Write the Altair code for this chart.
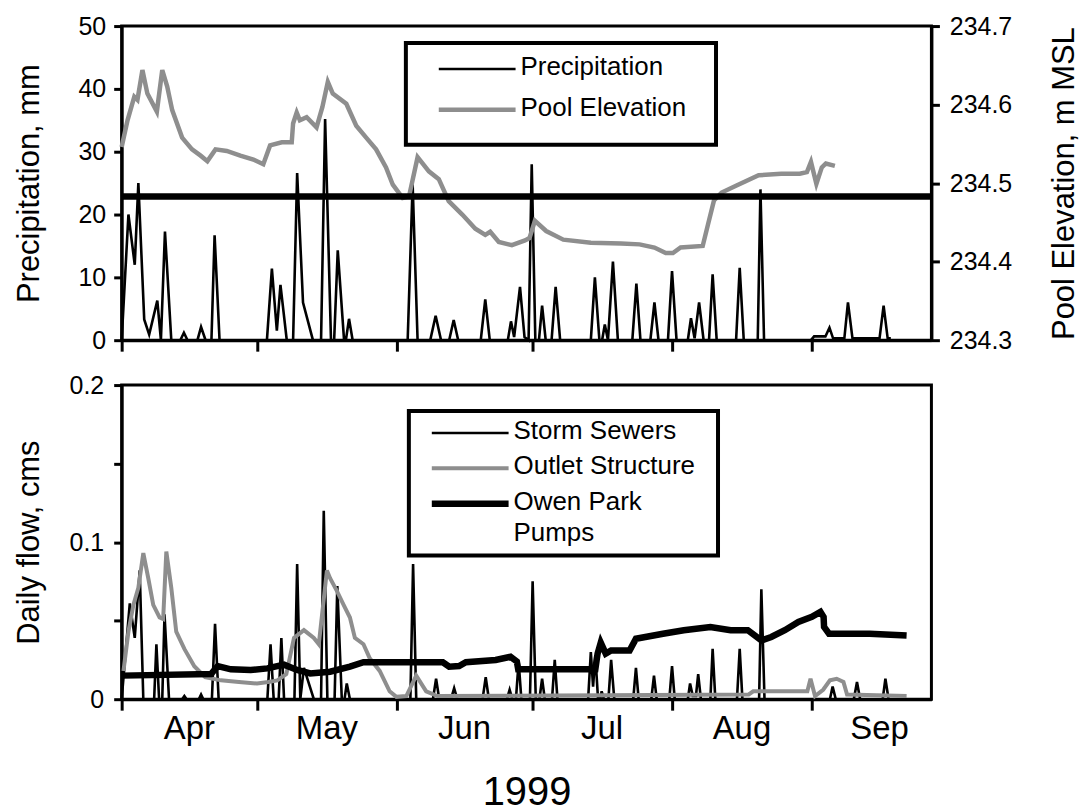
import altair as alt
import pandas as pd

FONT = "Liberation Sans"
W, H = 812, 315

# x positions are days counted from 1 April 1999
month_names = ["Apr", "May", "Jun", "Jul", "Aug", "Sep"]
month_starts = [0, 30, 61, 91, 122, 153, 183]
year_label = "1999"

precip_day = [0, 1.5, 2.9, 3.7, 5.0, 6.1, 7.9, 8.7, 9.6, 11.0, 13.0, 13.8, 14.6, 16.8, 17.6, 18.6,
              19.9, 20.6, 21.7, 32.2, 33.3, 34.4, 35.2, 36.6, 38.0, 38.9, 40.2, 42.4, 44.2, 45.1,
              46.4, 47.1, 47.9, 49.3, 49.7, 50.4, 51.2, 63.4, 64.5, 65.6, 68.4, 69.6, 70.8, 72.6,
              73.6, 74.6, 79.6, 80.6, 81.6, 85.6, 86.3, 87.0, 88.3, 89.3, 90.2, 90.9, 91.7, 92.5,
              93.2, 94.0, 95.3, 96.2, 97.2, 104.0, 104.9, 105.9, 106.5, 107.1, 107.8, 108.9, 110.0,
              113.2, 114.1, 115.0, 117.2, 118.1, 119.0, 121.1, 122.0, 123.0, 125.5, 126.2, 127.0,
              128.0, 129.0, 130.2, 131.0, 131.9, 136.2, 137.0, 137.9, 141.0, 141.6, 142.4, 152.8,
              153.5, 156.0, 156.9, 157.7, 160.2, 161.0, 162.0, 168.0, 168.9, 169.8, 170.5]
precip_mm = [0, 20, 12, 25, 3.3, 0.9, 6.3, 0, 17.3, 0, 0, 1.2, 0, 0, 2.1, 0,
             0, 16.7, 0, 0, 11.4, 1.5, 8.8, 0, 0, 26.6, 6, 0, 0, 35.2,
             0, 0, 14.3, 0, 0, 3.4, 0, 0, 24.8, 0, 0, 3.9, 0, 0,
             3.2, 0, 0, 6.5, 0, 0, 3.0, 0.5, 8.5, 0.5, 0, 28, 0, 0,
             5.5, 0, 0, 8.5, 0, 0, 10, 0, 0, 2.5, 0, 12.5, 0,
             0, 9.0, 0, 0, 6, 0, 0, 11, 0, 0, 3.5, 0.3,
             6, 0, 0, 10.5, 0, 0, 11.5, 0, 0, 24, 0, 0,
             0.6, 0.6, 2, 0.3, 0.3, 6, 0.3, 0.3, 5.5, 0.3, 0.3]

pool_day = [0, 1.3, 2.8, 3.5, 4.6, 5.7, 7.8, 9.0, 10.1, 11.2, 13.4, 15.6, 17.5, 19.0, 20.8, 23.3,
            26.3, 29.2, 31.4, 32.9, 35.5, 37.7, 38.0, 38.8, 39.5, 41.0, 43.2, 44.5, 45.7, 46.8,
            49.8, 52.0, 54.2, 56.4, 58.6, 60.1, 62.3, 63.7, 65.6, 68.1, 70.3, 72.5, 75.5, 78.4,
            80.6, 81.7, 83.6, 86.5, 89.4, 90.4, 91.6, 94.1, 97.9, 104.0, 110.7, 114.8, 118.1,
            120.6, 122.2, 123.9, 128.8, 130.0, 131.3, 133.0, 136.3, 141.2, 146.2, 150.3, 151.9,
            152.8, 154.0, 155.2, 156.1, 158.1]
pool_elev = [234.546, 234.58, 234.61, 234.606, 234.644, 234.614, 234.591, 234.644, 234.623, 234.593,
             234.558, 234.543, 234.535, 234.528, 234.543, 234.541, 234.535, 234.53, 234.524, 234.548,
             234.552, 234.552, 234.576, 234.59, 234.58, 234.584, 234.571, 234.597, 234.629, 234.614,
             234.601, 234.573, 234.558, 234.543, 234.52, 234.498, 234.481, 234.483, 234.533, 234.515,
             234.505, 234.477, 234.46, 234.442, 234.434, 234.438, 234.425, 234.421, 234.427, 234.43,
             234.452, 234.439, 234.428, 234.424, 234.423, 234.422, 234.418, 234.411, 234.411, 234.418,
             234.42, 234.448, 234.478, 234.488, 234.497, 234.51, 234.512, 234.512, 234.514, 234.527,
             234.499, 234.52, 234.525, 234.522]

level_day = [0, 179.5]
level_elev = [234.483, 234.483]

storm_day = [0, 1.8, 2.9, 4.0, 4.8, 7.2, 7.7, 8.3, 9.0, 9.5, 10.5, 13.4, 13.9, 14.4, 17.1, 17.6, 18.1,
             20.0, 20.7, 21.5, 32.3, 33.0, 33.7, 34.8, 35.4, 36.0, 38.3, 38.9, 39.6, 40.4, 42.6,
             44.2, 44.8, 45.6, 47.2, 47.8, 48.8, 49.4, 49.9, 50.6, 64.0, 64.6, 65.3, 69.0, 69.7,
             70.4, 73.0, 73.7, 74.4, 80.0, 80.7, 81.4, 85.4, 86.0, 86.6, 87.4, 88.0, 88.6, 90.5,
             91.1, 91.8, 92.6, 93.2, 93.8, 95.4, 96.0, 96.6, 103.4, 104.0, 104.5, 105.0, 105.6,
             106.1, 106.4, 106.9, 107.9, 108.5, 109.2, 113.4, 114.0, 114.6, 117.4, 118.0, 118.6,
             121.4, 122.0, 122.6, 125.5, 126.0, 126.6, 127.3, 127.8, 128.4, 130.5, 131.0, 131.6,
             136.4, 137.0, 137.6, 141.3, 141.8, 142.5, 157.0, 157.6, 158.3, 162.3, 163.0, 163.7,
             168.7, 169.3, 170.0, 174.0]
storm_cms = [0, 0.061, 0.039, 0.082, 0, 0, 0.035, 0, 0, 0.054, 0, 0, 0.002, 0, 0, 0.003, 0,
             0, 0.048, 0, 0, 0.035, 0, 0, 0.039, 0, 0, 0.086, 0, 0.02, 0,
             0, 0.12, 0, 0, 0.072, 0, 0, 0.01, 0, 0, 0.086, 0, 0, 0.013,
             0, 0, 0.007, 0, 0, 0.014, 0, 0, 0.006, 0, 0, 0.024, 0, 0,
             0.075, 0, 0, 0.013, 0, 0, 0.025, 0, 0, 0.03, 0.008, 0.028, 0,
             0, 0.005, 0, 0, 0.025, 0, 0, 0.02, 0, 0, 0.015, 0,
             0, 0.021, 0, 0, 0.01, 0.002, 0.002, 0.016, 0, 0, 0.032, 0,
             0, 0.032, 0, 0, 0.07, 0, 0, 0.008, 0, 0, 0.011, 0,
             0, 0.013, 0, 0]

outlet_day = [0.4, 1.5, 2.6, 3.7, 4.8, 5.9, 7.0, 8.4, 9.2, 9.9, 11.0, 12.1, 13.9, 16.1, 18.5, 22.0,
              26.0, 30.0, 32.5, 34.5, 36.5, 38.2, 40.4, 42.6, 43.7, 45.5, 46.2, 47.7, 49.2, 50.6,
              51.7, 53.6, 55.0, 57.2, 59.4, 60.9, 63.1, 65.3, 67.5, 70.0, 139.0, 140.0, 152.0,
              152.7, 153.7, 155.5, 157.0, 158.5, 160.0, 160.8, 174.0]
outlet_cms = [0.018, 0.043, 0.06, 0.071, 0.093, 0.077, 0.06, 0.052, 0.051, 0.094, 0.071, 0.043,
              0.032, 0.021, 0.014, 0.012, 0.011, 0.01, 0.011, 0.012, 0.016, 0.039, 0.044, 0.039,
              0.035, 0.082, 0.077, 0.069, 0.06, 0.052, 0.039, 0.035, 0.026, 0.018, 0.005, 0.0015,
              0.002, 0.015, 0.005, 0.002, 0.003, 0.005, 0.005, 0.013, 0.002, 0.006, 0.012, 0.013,
              0.011, 0.003, 0.002]

pumps_day = [0, 19.8, 21.3, 24.2, 28.6, 32.3, 36.0, 38.9, 41.8, 46.2, 50.6, 53.6, 71.2, 72.6, 74.8,
             76.3, 82.9, 86.2, 87.6, 87.9, 105.0, 105.5, 106.2, 107.3, 108.5, 112.6, 114.0, 120.0,
             124.6, 130.5, 135.0, 138.8, 141.8, 144.0, 147.0, 150.0, 153.0, 154.9, 155.6, 155.7,
             156.8, 165.8, 174.0]
pumps_cms = [0.015, 0.016, 0.021, 0.019, 0.0186, 0.0196, 0.022, 0.0186, 0.0164, 0.0175, 0.0207,
             0.0235, 0.0235, 0.0207, 0.0211, 0.0235, 0.025, 0.027, 0.024, 0.019, 0.019, 0.029, 0.036,
             0.029, 0.031, 0.031, 0.0385, 0.0417, 0.0439, 0.046, 0.0439, 0.0439, 0.0374, 0.0396,
             0.0439, 0.0492, 0.0524, 0.0556, 0.0524, 0.046, 0.0417, 0.0417, 0.0406]

top_legend_labels = ["Precipitation", "Pool Elevation"]
bottom_legend_labels = ["Storm Sewers", "Outlet Structure", "Owen Park\nPumps"]

GRAY = "#8e8e8e"
style_precip = dict(color="black", strokeWidth=2.6)
style_pool = dict(color=GRAY, strokeWidth=4.5)
style_level = dict(color="black", strokeWidth=6.5)
style_storm = dict(color="black", strokeWidth=2.6)
style_outlet = dict(color=GRAY, strokeWidth=4)
style_pumps = dict(color="black", strokeWidth=6.5)

df_prec = pd.DataFrame({"day": precip_day, "value": precip_mm})
df_pool = pd.DataFrame({"day": pool_day, "elev": pool_elev})
df_level = pd.DataFrame({"day": level_day, "elev": level_elev})
df_storm = pd.DataFrame({"day": storm_day, "flow": storm_cms})
df_outlet = pd.DataFrame({"day": outlet_day, "flow": outlet_cms})
df_pumps = pd.DataFrame({"day": pumps_day, "flow": pumps_cms})
month_mid = [(a + b) / 2 for a, b in zip(month_starts[:-1], month_starts[1:])]
df_months = pd.DataFrame({"mid": month_mid, "name": month_names})

xscale = alt.Scale(domain=[0, 179.5], nice=False, zero=False)
one = pd.DataFrame({"a": [0]})


def legend(labels, styles, box, x_line0, x_line1, y_first, step, x_text, font_size=26, line_h=31):
    layers = [
        alt.Chart(one).mark_rect(fill="white", stroke="black", strokeWidth=4).encode(
            x=alt.value(box[0]), x2=alt.value(box[2]), y=alt.value(box[1]), y2=alt.value(box[3]))
    ]
    for i, (lab, st) in enumerate(zip(labels, styles)):
        yy = y_first + i * step
        layers.append(
            alt.Chart(one).mark_rule(color=st["color"], strokeWidth=st["strokeWidth"]).encode(
                x=alt.value(x_line0), x2=alt.value(x_line1), y=alt.value(yy)))
        for k, part in enumerate(lab.split("\n")):
            layers.append(
                alt.Chart(pd.DataFrame({"t": [part]})).mark_text(
                    align="left", baseline="middle", font=FONT, fontSize=font_size, color="black"
                ).encode(text="t:N", x=alt.value(x_text), y=alt.value(yy - 2 + k * line_h)))
    return layers


# ---------------- top panel ----------------
prec = alt.Chart(df_prec).mark_line(**style_precip).encode(
    x=alt.X("day:Q", scale=xscale,
            axis=alt.Axis(values=month_starts[:-1], labels=False, title=None, tickSize=11,
                          tickWidth=3, grid=False, domainWidth=3)),
    y=alt.Y("value:Q", scale=alt.Scale(domain=[0, 50], nice=False),
            axis=alt.Axis(values=[0, 10, 20, 30, 40, 50], title="Precipitation, mm", grid=False,
                          tickSize=8, tickWidth=3, labelPadding=8, domainWidth=3,
                          titleX=-92, titleY=H / 2, titleAngle=270, titleBaseline="middle")),
)
pool = alt.Chart(df_pool).mark_line(**style_pool).encode(
    x=alt.X("day:Q", scale=xscale),
    y=alt.Y("elev:Q", scale=alt.Scale(domain=[234.3, 234.7], nice=False, zero=False),
            axis=alt.Axis(orient="right", values=[234.3, 234.4, 234.5, 234.6, 234.7], format=".1f",
                          title="Pool Elevation, m MSL", grid=False, tickSize=8, tickWidth=3,
                          labelPadding=10, domainWidth=3, titleX=133, titleY=H / 2,
                          titleAngle=270, titleBaseline="middle")),
)
level = alt.Chart(df_level).mark_line(**style_level).encode(
    x=alt.X("day:Q", scale=xscale), y="elev:Q")
right_side = alt.layer(pool, level)

top = alt.layer(
    prec, right_side,
    *legend(top_legend_labels, [style_precip, style_pool], (285, 17, 596, 119), 318, 395, 43, 41, 400),
).resolve_scale(y="independent").properties(width=W, height=H)

# ---------------- bottom panel ----------------
storm = alt.Chart(df_storm).mark_line(**style_storm).encode(
    x=alt.X("day:Q", scale=xscale,
            axis=alt.Axis(values=month_starts[:-1], labels=False, title=year_label, tickSize=11,
                          tickWidth=3, grid=False, domainWidth=3, titleFontSize=40,
                          titleY=106, titleBaseline="alphabetic")),
    y=alt.Y("flow:Q", scale=alt.Scale(domain=[0, 0.2], nice=False),
            axis=alt.Axis(values=[0, 0.05, 0.1, 0.15, 0.2], format="~g",
                          labelExpr="indexof(['0', '0.1', '0.2'], datum.label) >= 0 ? datum.label : ''",
                          title="Daily flow, cms", grid=False, tickSize=8, tickWidth=3,
                          labelPadding=10, domainWidth=3, titleX=-92, titleY=H / 2,
                          titleAngle=270, titleBaseline="middle")),
)
outlet = alt.Chart(df_outlet).mark_line(**style_outlet).encode(
    x=alt.X("day:Q", scale=xscale), y="flow:Q")
pumps = alt.Chart(df_pumps).mark_line(**style_pumps).encode(
    x=alt.X("day:Q", scale=xscale), y="flow:Q")
months = alt.Chart(df_months).mark_text(font=FONT, fontSize=33, baseline="middle", color="black").encode(
    x=alt.X("mid:Q", scale=xscale), y=alt.value(H + 30), text="name:N")

bottom = alt.layer(
    storm, outlet, pumps, months,
    *legend(bottom_legend_labels, [style_storm, style_outlet, style_pumps], (288, 26, 598, 171),
            311, 388, 48, 35.5, 393),
).properties(width=W, height=H)

chart = alt.vconcat(top, bottom, spacing=16).properties(
    padding={"left": 12, "top": 11, "right": 2, "bottom": 0}
).configure_view(stroke="black", strokeWidth=3).configure_axis(
    labelFont=FONT, titleFont=FONT, labelFontSize=25, titleFontSize=31, titleFontWeight="normal",
    labelColor="black", titleColor="black", tickColor="black", domainColor="black",
)

chart.save("out.html", embed_options={"renderer": "svg", "actions": False})
